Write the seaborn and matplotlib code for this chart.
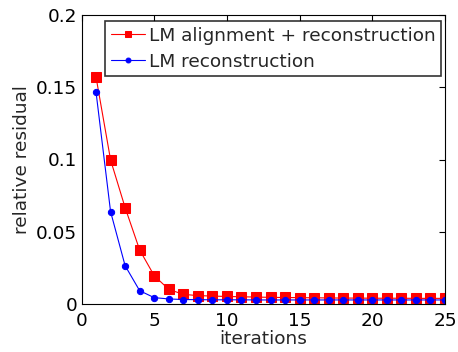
import numpy as np
import pandas as pd
import matplotlib
matplotlib.use("Agg")
import matplotlib.pyplot as plt
import seaborn as sns

iterations = list(range(1, 26))
align_recon = [0.157, 0.0997, 0.0667, 0.0374, 0.0196, 0.0101, 0.0067, 0.0058, 0.0055,
               0.0052, 0.0050, 0.0048, 0.0046, 0.0045, 0.0044, 0.0043, 0.0042, 0.0041,
               0.0041, 0.0040, 0.0040, 0.0040, 0.0039, 0.0039, 0.0039]
recon_only = [0.1466, 0.0639, 0.0265, 0.0092, 0.0044, 0.0035, 0.0031, 0.0030, 0.0029,
              0.0029, 0.0029, 0.0028, 0.0028, 0.0028, 0.0028, 0.0028, 0.0028, 0.0028,
              0.0028, 0.0028, 0.0028, 0.0028, 0.0028, 0.0028, 0.0028]
labels = ["LM alignment + reconstruction", "LM reconstruction"]

sns.set_theme(style="white")
plt.rcParams['font.family'] = ['DejaVu Sans']

FS = 13.3
fig = plt.figure(figsize=(4.58, 3.52), dpi=100)
ax = fig.add_axes([81.5/458, 1 - 304/352, (445 - 81.5)/458, (304 - 15)/352])

df = pd.DataFrame({"iterations": iterations + iterations,
                   "value": align_recon + recon_only,
                   "series": [labels[0]] * 25 + [labels[1]] * 25})

sns.lineplot(data=df[df.series == labels[0]], x="iterations", y="value", ax=ax,
             color="red", marker="s", markersize=6.5, markeredgecolor="red",
             linewidth=0.8, label=labels[0])
sns.lineplot(data=df[df.series == labels[1]], x="iterations", y="value", ax=ax,
             color="blue", marker="o", markersize=4.5, markeredgecolor="blue",
             linewidth=0.8, label=labels[1])

ax.set_xlim(0, 25)
ax.set_ylim(0, 0.2)
ax.set_xticks([0, 5, 10, 15, 20, 25])
ax.set_yticks([0, 0.05, 0.1, 0.15, 0.2])
ax.set_yticklabels(["0", "0.05", "0.1", "0.15", "0.2"])
ax.tick_params(direction="in", length=4, width=0.8, top=True, right=True,
               labelsize=FS, colors="black", pad=3)
ax.tick_params(axis="x", pad=5.5)
for s in ax.spines.values():
    s.set_color("black")
    s.set_linewidth(0.8)
ax.set_xlabel("iterations", fontsize=FS, labelpad=0.5)
ax.set_ylabel("relative residual", fontsize=FS, labelpad=4)

leg = ax.legend(loc="upper right", bbox_to_anchor=(441/458, 1 - 21/352),
                bbox_transform=fig.transFigure,
                fontsize=FS, frameon=True, fancybox=False,
                edgecolor="black", borderpad=0.3, handlelength=1.85,
                handletextpad=0.2, labelspacing=0.45, borderaxespad=0)
leg.get_frame().set_linewidth(1.2)
for h in leg.legend_handles:
    h.set_markersize(5 if h.get_marker() == "s" else 3.5)

fig.savefig("out.png", dpi=100)
